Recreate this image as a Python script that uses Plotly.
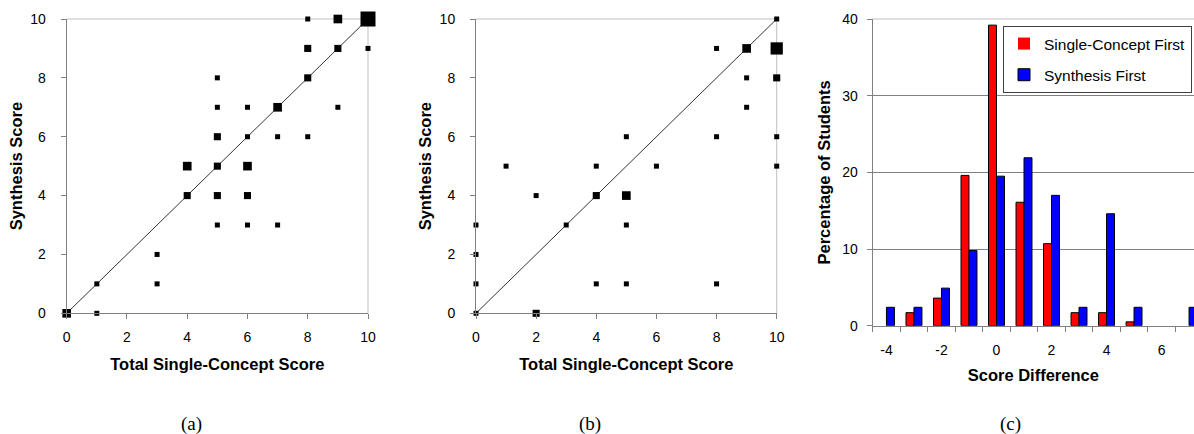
import numpy as np
import plotly.graph_objects as go

# ---------------- data ----------------
# (a) Single-Concept First group: (total single-concept score, synthesis score, number of students)
a_single = [0, 1, 1, 3, 3, 4, 4, 5, 5, 5, 5, 5, 5, 6, 6, 6, 6, 6, 7, 7, 7, 8, 8, 8, 8, 9, 9, 9, 10, 10]
a_synth = [0, 1, 0, 2, 1, 5, 4, 8, 7, 6, 5, 4, 3, 7, 6, 5, 4, 3, 7, 6, 3, 10, 9, 8, 6, 10, 9, 7, 10, 9]
a_count = [3, 1, 1, 1, 1, 3, 2, 1, 1, 2, 2, 2, 1, 1, 1, 3, 2, 1, 3, 1, 1, 1, 2, 2, 1, 3, 2, 1, 9, 1]

# (b) Synthesis First group
b_single = [0, 0, 0, 0, 1, 2, 2, 3, 4, 4, 4, 5, 5, 5, 5, 6, 8, 8, 8, 9, 9, 9, 10, 10, 10, 10, 10]
b_synth = [0, 1, 2, 3, 5, 4, 0, 3, 5, 4, 1, 6, 4, 3, 1, 5, 9, 6, 1, 9, 8, 7, 10, 9, 8, 6, 5]
b_count = [1, 1, 1, 1, 1, 1, 2, 1, 1, 2, 1, 1, 3, 1, 1, 1, 1, 1, 1, 3, 1, 1, 1, 6, 2, 1, 1]

diag = [0, 10]

# (c) score difference histogram (percentage of students)
score_diff = [-4, -3, -2, -1, 0, 1, 2, 3, 4, 5, 6, 7]
pct_single_first = [0, 1.7, 3.6, 19.6, 39.2, 16.1, 10.7, 1.7, 1.7, 0.5, 0, 0]
pct_synthesis_first = [2.4, 2.4, 4.9, 9.8, 19.5, 21.9, 17.0, 2.4, 14.6, 2.4, 0, 2.4]
diff_tick_labels = ["-4", "-2", "0", "2", "4", "6"]

captions = ["(a)", "(b)", "(c)"]

# ---------------- layout helpers ----------------
W, H = 1194, 434
FONT = "Liberation Sans, Arial, sans-serif"


def fx(p):
    return p / W


def fy(p):
    return 1 - p / H


def msize(counts):
    return [5 * np.sqrt(c) for c in counts]


def edge(vals):
    return [1 if v > 0 else 0 for v in vals]


fig = go.Figure()

for xa, ya, xs, ys, cs in [("x", "y", a_single, a_synth, a_count),
                           ("x2", "y2", b_single, b_synth, b_count)]:
    fig.add_trace(go.Scatter(x=diag, y=diag, mode="lines", xaxis=xa, yaxis=ya,
                             line=dict(color="#333333", width=1),
                             showlegend=False, hoverinfo="skip"))
    fig.add_trace(go.Scatter(x=xs, y=ys, mode="markers", xaxis=xa, yaxis=ya,
                             marker=dict(symbol="square", size=msize(cs), color="black",
                                         opacity=1, line=dict(width=0)),
                             cliponaxis=False, showlegend=False))

fig.add_trace(go.Bar(x=score_diff, y=pct_single_first, name="Single-Concept First",
                     xaxis="x3", yaxis="y3", legendgroup="s",
                     marker=dict(color="#ff0000", line=dict(color="black", width=edge(pct_single_first)))))
fig.add_trace(go.Bar(x=score_diff, y=pct_synthesis_first, name="Synthesis First",
                     xaxis="x3", yaxis="y3", legendgroup="y",
                     marker=dict(color="#0000ff", line=dict(color="black", width=edge(pct_synthesis_first)))))

axis_common = dict(showline=True, linecolor="#808080", linewidth=1,
                   ticks="outside", ticklen=5, tickcolor="#808080", tickwidth=1,
                   showgrid=False, zeroline=False,
                   tickfont=dict(size=14, color="black", family=FONT))
title_font = dict(size=16.5, color="black", family=FONT)

sc_y_dom = [fy(313.3), fy(19)]
fig.update_layout(
    width=W, height=H,
    margin=dict(l=0, r=0, t=0, b=0, autoexpand=False),
    paper_bgcolor="white", plot_bgcolor="white",
    font=dict(family=FONT, color="black"),
    barmode="group", bargap=0.42, bargroupgap=0,
    xaxis=dict(domain=[fx(66.7), fx(368)], range=[0, 10], dtick=2, anchor="y", ticklabelstandoff=6,
               title=dict(text="<b>Total Single-Concept Score</b>", font=title_font, standoff=14),
               **axis_common),
    yaxis=dict(domain=sc_y_dom, range=[0, 10], dtick=2, anchor="x", ticklabelstandoff=12,
               title=dict(text="<b>Synthesis Score</b>", font=title_font, standoff=3),
               **axis_common),
    xaxis2=dict(domain=[fx(476), fx(776.7)], range=[0, 10], dtick=2, anchor="y2", ticklabelstandoff=6,
                title=dict(text="<b>Total Single-Concept Score</b>", font=title_font, standoff=14),
                **axis_common),
    yaxis2=dict(domain=sc_y_dom, range=[0, 10], dtick=2, anchor="x2", ticklabelstandoff=12,
                title=dict(text="<b>Synthesis Score</b>", font=title_font, standoff=3),
                **axis_common),
    xaxis3=dict(domain=[fx(872.7), 1.0], range=[-4.5, 7.18],
                tickmode="array", tickvals=score_diff[::2], ticktext=diff_tick_labels,
                anchor="y3", showline=True, linecolor="#808080", linewidth=1,
                ticks="", showgrid=False, zeroline=False, ticklabelstandoff=11,
                tickfont=dict(size=14, color="black", family=FONT),
                minor=dict(tickmode="linear", tick0=-4.5, dtick=1, ticks="outside", ticklen=5,
                           tickcolor="#808080", tickwidth=1, showgrid=False),
                title=dict(text="<b>Score Difference</b>", font=title_font, standoff=12)),
    yaxis3=dict(domain=[fy(325.7), fy(19)], range=[0, 40], dtick=10, anchor="x3",
                showline=True, linecolor="#808080", linewidth=1,
                ticks="outside", ticklen=5, tickcolor="#808080", tickwidth=1,
                showgrid=True, gridcolor="#808080", gridwidth=1, zeroline=False,
                ticklabelstandoff=6,
                tickfont=dict(size=14, color="black", family=FONT),
                title=dict(text="<b>Percentage of Students</b>", font=title_font, standoff=7)),
    legend=dict(x=fx(1003), y=fy(26), xanchor="left", yanchor="top",
                bordercolor="#404040", borderwidth=1, bgcolor="white",
                font=dict(size=15.5, color="black", family=FONT),
                traceorder="grouped", tracegroupgap=8),
    showlegend=True,
)

shapes = []
for xr, yr in [("x", "y"), ("x2", "y2")]:
    shapes.append(dict(type="line", xref=f"{xr} domain", yref=f"{yr} domain", x0=0, x1=1, y0=1, y1=1,
                       line=dict(color="#c0c0c0", width=1), layer="below"))
    shapes.append(dict(type="line", xref=f"{xr} domain", yref=f"{yr} domain", x0=1, x1=1, y0=0, y1=1,
                       line=dict(color="#c0c0c0", width=1), layer="below"))
shapes.append(dict(type="line", xref="x3 domain", yref="y3 domain", x0=0, x1=1, y0=1, y1=1,
                   line=dict(color="#c0c0c0", width=1), layer="below"))
fig.update_layout(shapes=shapes)

for txt, cx in zip(captions, [191, 590, 1010]):
    fig.add_annotation(text=txt, x=fx(cx), y=fy(424), xref="paper", yref="paper",
                       xanchor="center", yanchor="middle", showarrow=False,
                       font=dict(size=19, color="black", family="Liberation Serif, Times New Roman, serif"))

fig.write_html("out.html", config={"displayModeBar": False},
               post_script="document.body.style.margin='0';document.body.style.overflow='hidden';")
